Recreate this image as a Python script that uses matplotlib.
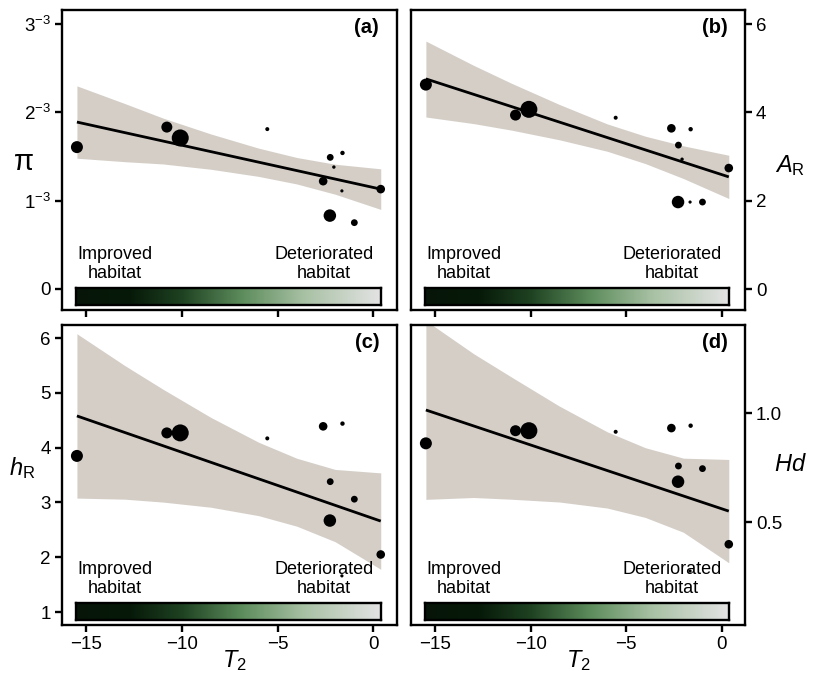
import numpy as np
import matplotlib
matplotlib.use("Agg")
import matplotlib.pyplot as plt
from matplotlib.colors import LinearSegmentedColormap

plt.rcParams['font.family'] = ['Liberation Sans', 'DejaVu Sans']
plt.rcParams['mathtext.fontset'] = 'custom'
plt.rcParams['mathtext.rm'] = 'Liberation Sans'
plt.rcParams['mathtext.it'] = 'Liberation Sans:italic'
plt.rcParams['mathtext.bf'] = 'Liberation Sans:bold'

# ---------------- data ----------------
t2 = [-15.5, -10.8, -10.1, -5.55, -2.63, -1.62, -2.26, -2.07, 0.38, -2.28, -1.65, -1.0]
pop_weight = [12, 11, 17, 4, 8.6, 4.4, 6.8, 3.4, 8.6, 12.5, 3.2, 6.8]

pi_vals = [1.606, 1.833, 1.71, 1.81, 1.22, 1.54, 1.49, 1.38, 1.13, 0.83, 1.11, 0.75]
ar_vals = [4.63, 3.94, 4.07, 3.88, 3.64, 3.62, 3.26, 2.94, 2.74, 1.97, 1.97, 1.97]
hr_vals = [3.85, 4.27, 4.27, 4.17, 4.39, 4.44, 3.38, np.nan, 2.05, 2.67, 1.66, 3.06]
hd_vals = [0.861, 0.919, 0.919, 0.914, 0.931, 0.942, 0.757, np.nan, 0.398, 0.685, 0.275, 0.745]

band_x = [-15.5, -13, -11, -8.5, -6, -4, -2, 0.38]
pi_upper = [2.30, 2.10, 1.935, 1.755, 1.594, 1.488, 1.412, 1.36]
pi_lower = [1.48, 1.441, 1.415, 1.355, 1.274, 1.188, 1.072, 0.90]
ar_upper = [5.616, 5.067, 4.658, 4.18, 3.741, 3.462, 3.243, 3.03]
ar_lower = [3.896, 3.747, 3.598, 3.38, 3.121, 2.842, 2.503, 2.05]
hr_upper = [6.08, 5.50, 5.067, 4.553, 4.099, 3.806, 3.603, 3.54]
hr_lower = [3.08, 3.06, 3.007, 2.913, 2.759, 2.566, 2.283, 1.78]
hd_upper = [1.424, 1.2725, 1.1645, 1.0318, 0.9142, 0.8411, 0.793, 0.787]
hd_lower = [0.604, 0.6125, 0.6045, 0.5918, 0.5642, 0.5211, 0.453, 0.313]

line_x = [-15.5, 0.38]
pi_line = [1.89, 1.13]
ar_line = [4.76, 2.54]
hr_line = [4.58, 2.66]
hd_line = [1.014, 0.55]

x_ticks = [-15, -10, -5, 0]
x_ticklabels = ['\u221215', '\u221210', '\u22125', '0']
pi_ticks = [0, 1, 2, 3]
pi_ticklabels = ['0', r'1$^{-3}$', r'2$^{-3}$', r'3$^{-3}$']
ar_ticks = [0, 2, 4, 6]
hr_ticks = [1, 2, 3, 4, 5, 6]
hd_ticks = [0.5, 1.0]

panel_labels = ['(a)', '(b)', '(c)', '(d)']
ylabels = ['π', r'$A_\mathrm{R}$', r'$h_\mathrm{R}$', r'$Hd$']
xlabel = r'$T_2$'
left_text = 'Improved\nhabitat'
right_text = 'Deteriorated\nhabitat'

# ---------------- figure ----------------
W, H = 815, 675
fig = plt.figure(figsize=(W / 100, H / 100), dpi=100)

def fr(l, t, r, b):
    return [l / W, 1 - b / H, (r - l) / W, (b - t) / H]

ax_a = fig.add_axes(fr(62, 10, 397, 310))
ax_b = fig.add_axes(fr(411, 10, 745, 310))
ax_c = fig.add_axes(fr(62, 325, 397, 625))
ax_d = fig.add_axes(fr(411, 325, 745, 625))

band_color = '#d4cec7'
cmap = LinearSegmentedColormap.from_list(
    'hab', [(0.0, '#061508'), (0.18, '#071a09'), (0.35, '#1f4322'),
            (0.55, '#5f8e5e'), (0.75, '#a8c1a4'), (1.0, '#e3e3e3')])

panels = [
    (ax_a, pi_vals, pi_upper, pi_lower, pi_line, (-0.24, 3.16), pi_ticks, pi_ticklabels, 'left', True),
    (ax_b, ar_vals, ar_upper, ar_lower, ar_line, (-0.475, 6.32), ar_ticks, [str(v) for v in ar_ticks], 'right', True),
    (ax_c, hr_vals, hr_upper, hr_lower, hr_line, (0.763, 6.24), hr_ticks, [str(v) for v in hr_ticks], 'left', False),
    (ax_d, hd_vals, hd_upper, hd_lower, hd_line, (0.0275, 1.404), hd_ticks, ['0.5', '1.0'], 'right', False),
]
ylabel_pos = [(-0.113, 0.493), (1.135, 0.48), (-0.119, 0.523), (1.135, 0.533)]
xlabel_pos = [None, None, (0.516, -0.117), (0.5, -0.117)]

sizes = [(d * 0.72) ** 2 for d in pop_weight]

for i, (ax, yv, up, lo, ln, ylim, yt, ytl, side, top) in enumerate(panels):
    ax.fill_between(band_x, lo, up, color=band_color, lw=0, zorder=1)
    ax.plot(line_x, ln, color='black', lw=2.0, zorder=2, solid_capstyle='butt')
    ax.scatter(t2, yv, s=sizes, color='black', lw=0, zorder=3)
    ax.set_xlim(-16.28, 1.23)
    ax.set_ylim(*ylim)
    ax.set_xticks(x_ticks)
    ax.set_yticks(yt)
    ax.set_yticklabels(ytl)
    for sp in ax.spines.values():
        sp.set_linewidth(1.7)
    ax.tick_params(direction='out', length=5, width=1.7, labelsize=13.5, pad=3)
    if side == 'right':
        ax.yaxis.tick_right()
        ax.yaxis.set_label_position('right')
    if top:
        ax.tick_params(axis='x', labelbottom=False)
    else:
        ax.set_xticklabels(x_ticklabels)
        ax.set_xlabel(xlabel, fontsize=17, va='center', ha='center')
        ax.xaxis.set_label_coords(*xlabel_pos[i])
    ax.set_ylabel(ylabels[i], fontsize=21 if i == 0 else 17, rotation=0,
                  va='center', ha='center')
    ax.yaxis.set_label_coords(*ylabel_pos[i])
    ax.text(0.91, 0.943, panel_labels[i], transform=ax.transAxes, fontsize=14.5,
            fontweight='bold', ha='center', va='center', zorder=5)
    # gradient bar
    cax = ax.inset_axes([0.042, 0.017, 0.91, 0.057])
    cax.imshow(np.linspace(0, 1, 256)[None, :], aspect='auto', cmap=cmap)
    cax.set_xticks([])
    cax.set_yticks([])
    for sp in cax.spines.values():
        sp.set_linewidth(1.7)
    ax.text(0.158, 0.092, left_text, transform=ax.transAxes, fontsize=13,
            ha='center', va='bottom', linespacing=1.15, zorder=5)
    ax.text(0.782, 0.092, right_text, transform=ax.transAxes, fontsize=13,
            ha='center', va='bottom', linespacing=1.15, zorder=5)

fig.savefig('out.png', dpi=100)
